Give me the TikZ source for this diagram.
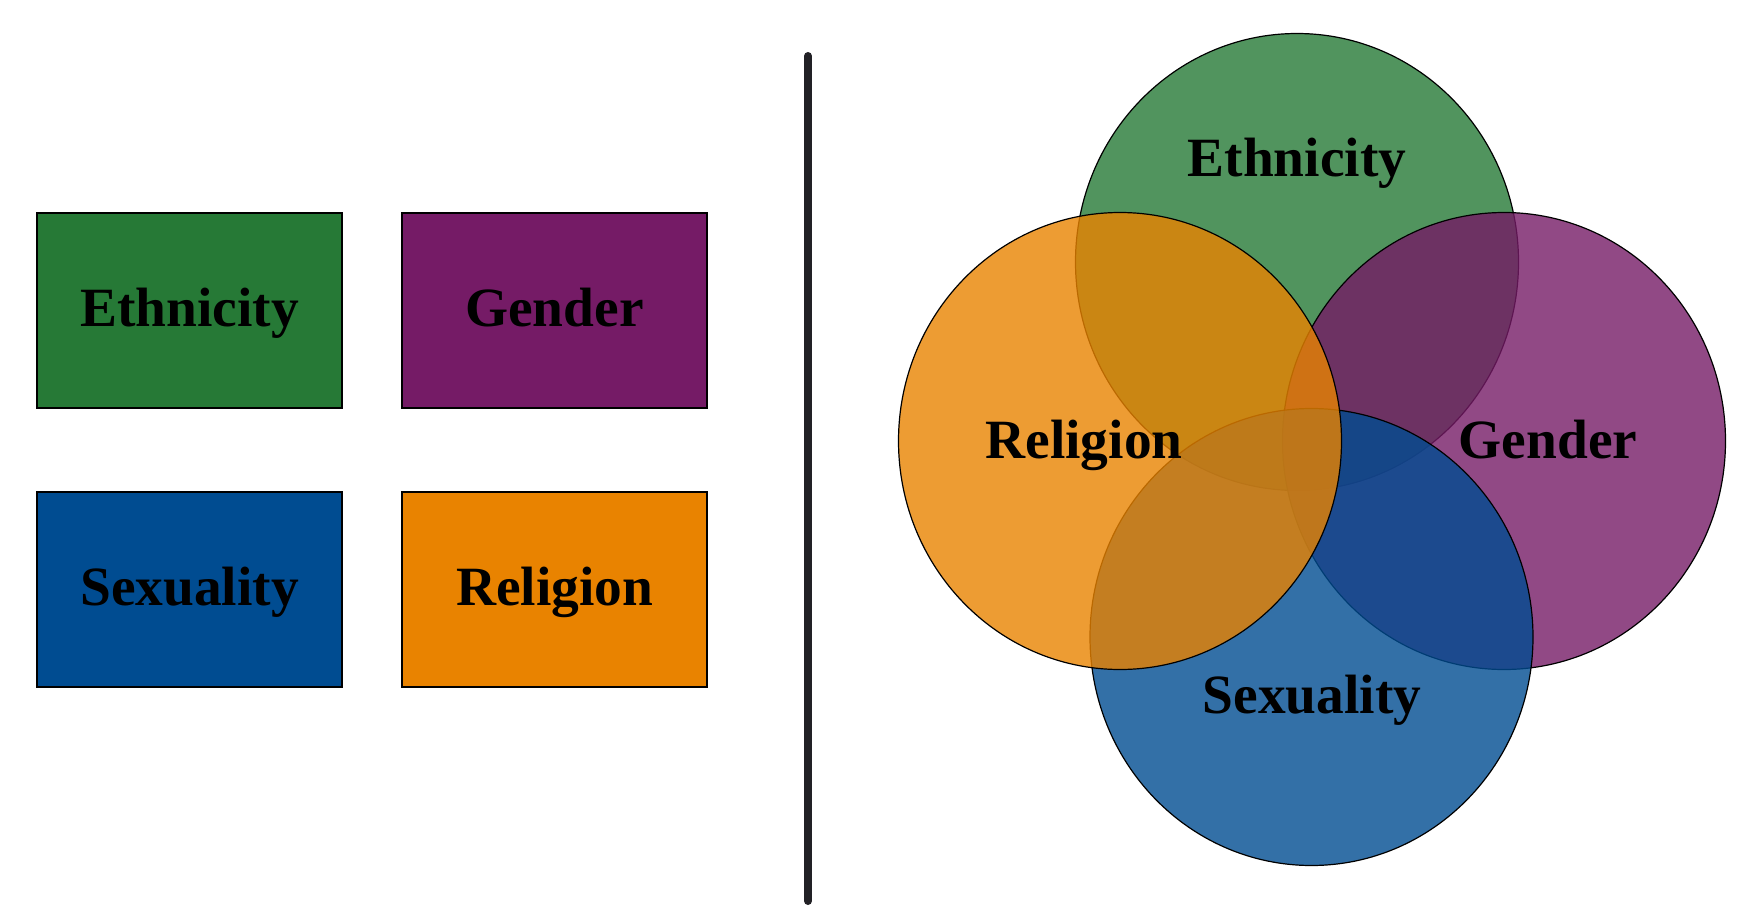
\documentclass[tikz,border=0pt]{standalone}
\usepackage{fontspec}
\setmainfont{Liberation Serif}
\usetikzlibrary{shapes.geometric}
\definecolor{cgreen}{HTML}{267936}
\definecolor{cpurple}{HTML}{751B66}
\definecolor{cblue}{HTML}{004C91}
\definecolor{corange}{HTML}{E98300}
\definecolor{cline}{HTML}{222126}
\tikzset{
  boxnode/.style={draw=black, line width=2pt, rectangle, minimum width=305pt, minimum height=195pt,
    inner sep=0pt, text height=40pt, text depth=8pt, font=\fontsize{55.4}{60}\selectfont\bfseries},
  setnode/.style={draw=black, line width=1.2pt, ellipse, minimum width=443pt, minimum height=457pt,
    inner sep=0pt, fill opacity=0.8},
  setlabel/.style={anchor=base, inner sep=0pt, font=\fontsize{55.4}{60}\selectfont\bfseries}
}
\begin{document}
\begin{tikzpicture}[x=1pt,y=-1pt]
\useasboundingbox (0,0) rectangle (1753,915);
% left boxes
\node[boxnode, fill=cgreen] (bE) at (189.5,310.5) {Ethnicity};
\node[boxnode, fill=cpurple] (bG) at (554.5,310.5) {Gender};
\node[boxnode, fill=cblue] (bS) at (189.5,589.5) {Sexuality};
\node[boxnode, fill=corange] (bR) at (554.5,589.5) {Religion};
% divider
\coordinate (dtop) at (808,56);
\coordinate (dbot) at (808,901);
\draw[cline, line width=8pt, line cap=round] (dtop) -- (dbot);
% Venn sets
\node[setnode, fill=cgreen] (cE) at (1297,262) {};
\node[setnode, fill=cpurple] (cG) at (1504,441) {};
\node[setnode, fill=cblue] (cS) at (1311.5,637) {};
\node[setnode, fill=corange] (cR) at (1120,441) {};
% labels
\node[setlabel] (lE) at (1297,176.5) {Ethnicity};
\node[setlabel] (lR) at (1084,458) {Religion};
\node[setlabel] (lG) at (1548,458) {Gender};
\node[setlabel] (lS) at (1312,713) {Sexuality};
\end{tikzpicture}
\end{document}
